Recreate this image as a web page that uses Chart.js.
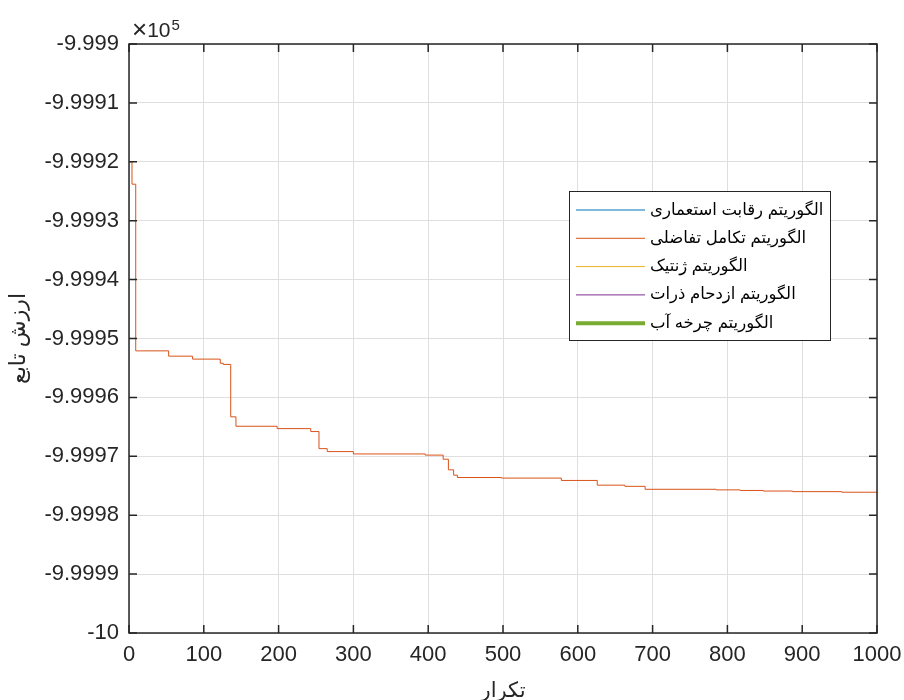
<!DOCTYPE html>
<html>
<head>
<meta charset="utf-8">
<script src="https://cdn.jsdelivr.net/npm/chart.js@4/dist/chart.umd.min.js"></script>
<style>
    html, body { margin: 0; padding: 0; background: #fff; }
    #wrap { width: 904px; height: 700px; }
</style>
</head>
<body>
<div id="wrap"><canvas id="cnv" width="904" height="700"></canvas></div>
<script>
// series names (legend order)
var seriesNames = [
    'الگوریتم رقابت استعماری',
    'الگوریتم تکامل تفاضلی',
    'الگوریتم ژنتیک',
    'الگوریتم ازدحام ذرات',
    'الگوریتم چرخه آب'
];
var seriesColors = ['#0072BD', '#D95319', '#EDB120', '#7E2F8E', '#77AC30'];
var seriesWidths = [1, 1, 1, 1, 4];

// differential evolution: iteration where the best value changes, and the value
var deIter = [0, 4, 9, 53, 85, 122, 126, 136, 143, 198, 243, 254, 265, 300, 396,
    420, 427, 434, 439, 498, 578, 626, 663, 690, 785, 817, 848, 887, 953, 1000];
var deValue = [-999920.0, -999923.8, -999952.1, -999953.0, -999953.5, -999954.2, -999954.4,
    -999963.3, -999964.9, -999965.3, -999965.8, -999968.7, -999969.2, -999969.6, -999969.8,
    -999970.5, -999972.3, -999973.2, -999973.6, -999973.7, -999974.1, -999974.9, -999975.1,
    -999975.6, -999975.7, -999975.8, -999975.9, -999976.0, -999976.1, -999976.1];

// the other curves are not visible inside the plotted range
var icaValue = [];
var gaValue = [];
var psoValue = [];
var wcaValue = [];

var xTicks = [0, 100, 200, 300, 400, 500, 600, 700, 800, 900, 1000];
var yTicks = [-1000000, -999990, -999980, -999970, -999960, -999950, -999940, -999930, -999920, -999910, -999900];

var xTitle = 'تکرار';
var yTitle = 'ارزش تابع';

var FONT = '"Liberation Sans", Arial, "DejaVu Sans", sans-serif';
var AXIS = '#262626';

function toPoints(xs, ys) {
    var pts = [];
    for (var i = 0; i < ys.length; i++) pts.push({ x: xs[i], y: ys[i] });
    return pts;
}

var allSeries = [icaValue, toPoints(deIter, deValue), gaValue, psoValue, wcaValue];

var datasets = [];
for (var i = 0; i < seriesNames.length; i++) {
    datasets.push({
        label: seriesNames[i],
        data: allSeries[i],
        borderColor: seriesColors[i],
        backgroundColor: seriesColors[i],
        borderWidth: seriesWidths[i],
        pointRadius: 0,
        stepped: 'before',
        fill: false
    });
}

// box, inward ticks, titles, exponent and legend (matlab look)
var matlabAxes = {
    id: 'matlabAxes',
    afterDraw: function (chart) {
        var ctx = chart.ctx;
        var a = chart.chartArea;
        var xs = chart.scales.x, ys = chart.scales.y;
        ctx.save();

        ctx.strokeStyle = AXIS;
        ctx.lineWidth = 1.5;
        ctx.strokeRect(a.left, a.top, a.right - a.left, a.bottom - a.top);

        ctx.beginPath();
        xTicks.forEach(function (v) {
            var px = xs.getPixelForValue(v);
            ctx.moveTo(px, a.bottom); ctx.lineTo(px, a.bottom - 8);
            ctx.moveTo(px, a.top); ctx.lineTo(px, a.top + 8);
        });
        yTicks.forEach(function (v) {
            var py = ys.getPixelForValue(v);
            ctx.moveTo(a.left, py); ctx.lineTo(a.left + 8, py);
            ctx.moveTo(a.right, py); ctx.lineTo(a.right - 8, py);
        });
        ctx.stroke();

        // exponent label
        ctx.fillStyle = AXIS;
        ctx.textBaseline = 'alphabetic';
        ctx.textAlign = 'left';
        ctx.font = '26px ' + FONT;
        ctx.fillText('\u00d7', a.left + 3, a.top - 6);
        var wx = ctx.measureText('\u00d7').width;
        ctx.font = '21px ' + FONT;
        ctx.fillText('10', a.left + 3 + wx, a.top - 7);
        var w = wx + ctx.measureText('10').width;
        ctx.font = '15px ' + FONT;
        ctx.fillText('5', a.left + 4 + w, a.top - 14);

        // axis titles
        ctx.font = '21px ' + FONT;
        ctx.textAlign = 'center';
        ctx.textBaseline = 'middle';
        ctx.fillText(xTitle, (a.left + a.right) / 2, 691);
        ctx.font = '22px ' + FONT;
        ctx.save();
        ctx.translate(19, (a.top + a.bottom) / 2);
        ctx.rotate(-Math.PI / 2);
        ctx.fillText(yTitle, 0, 0);
        ctx.restore();

        // legend
        var lx = 569, ly = 191, lw = 261, lh = 149;
        ctx.fillStyle = '#fff';
        ctx.fillRect(lx, ly, lw, lh);
        ctx.strokeStyle = AXIS;
        ctx.lineWidth = 1;
        ctx.strokeRect(lx + 0.5, ly + 0.5, lw, lh);
        ctx.font = '16.5px ' + FONT;
        ctx.textAlign = 'left';
        ctx.textBaseline = 'middle';
        chart.data.datasets.forEach(function (ds, k) {
            var cy = 210 + k * 28.3;
            ctx.strokeStyle = ds.borderColor;
            ctx.lineWidth = ds.borderWidth;
            ctx.beginPath();
            ctx.moveTo(576, cy); ctx.lineTo(645, cy);
            ctx.stroke();
            ctx.fillStyle = '#000';
            ctx.fillText(ds.label, 650, cy);
        });
        ctx.restore();
    }
};

var chart = new Chart(document.getElementById('cnv').getContext('2d'), {
    type: 'line',
    data: { datasets: datasets },
    options: {
        responsive: false,
        animation: false,
        layout: { padding: { top: 44, right: 27, left: 0, bottom: 0 } },
        plugins: {
            legend: { display: false },
            tooltip: { enabled: false }
        },
        scales: {
            x: {
                type: 'linear',
                min: 0,
                max: 1000,
                afterFit: function (s) { s.height = 67; s.paddingLeft = 0; s.paddingRight = 0; },
                afterBuildTicks: function (s) { s.ticks = xTicks.map(function (v) { return { value: v }; }); },
                grid: { color: '#dfdfdf', drawTicks: false },
                border: { display: false },
                ticks: {
                    color: AXIS,
                    padding: 9,
                    maxRotation: 0,
                    autoSkip: false,
                    font: { family: FONT, size: 22 },
                    callback: function (v) { return String(v); }
                }
            },
            y: {
                type: 'linear',
                min: -1000000,
                max: -999900,
                afterFit: function (s) { s.width = 129; s.paddingTop = 0; s.paddingBottom = 0; },
                afterBuildTicks: function (s) { s.ticks = yTicks.map(function (v) { return { value: v }; }); },
                grid: { color: '#dfdfdf', drawTicks: false },
                border: { display: false },
                ticks: {
                    color: AXIS,
                    padding: 10,
                    autoSkip: false,
                    font: { family: FONT, size: 22 },
                    callback: function (v) { return String(Number((v / 1e5).toFixed(4))); }
                }
            }
        }
    },
    plugins: [matlabAxes]
});
</script>
</body>
</html>
